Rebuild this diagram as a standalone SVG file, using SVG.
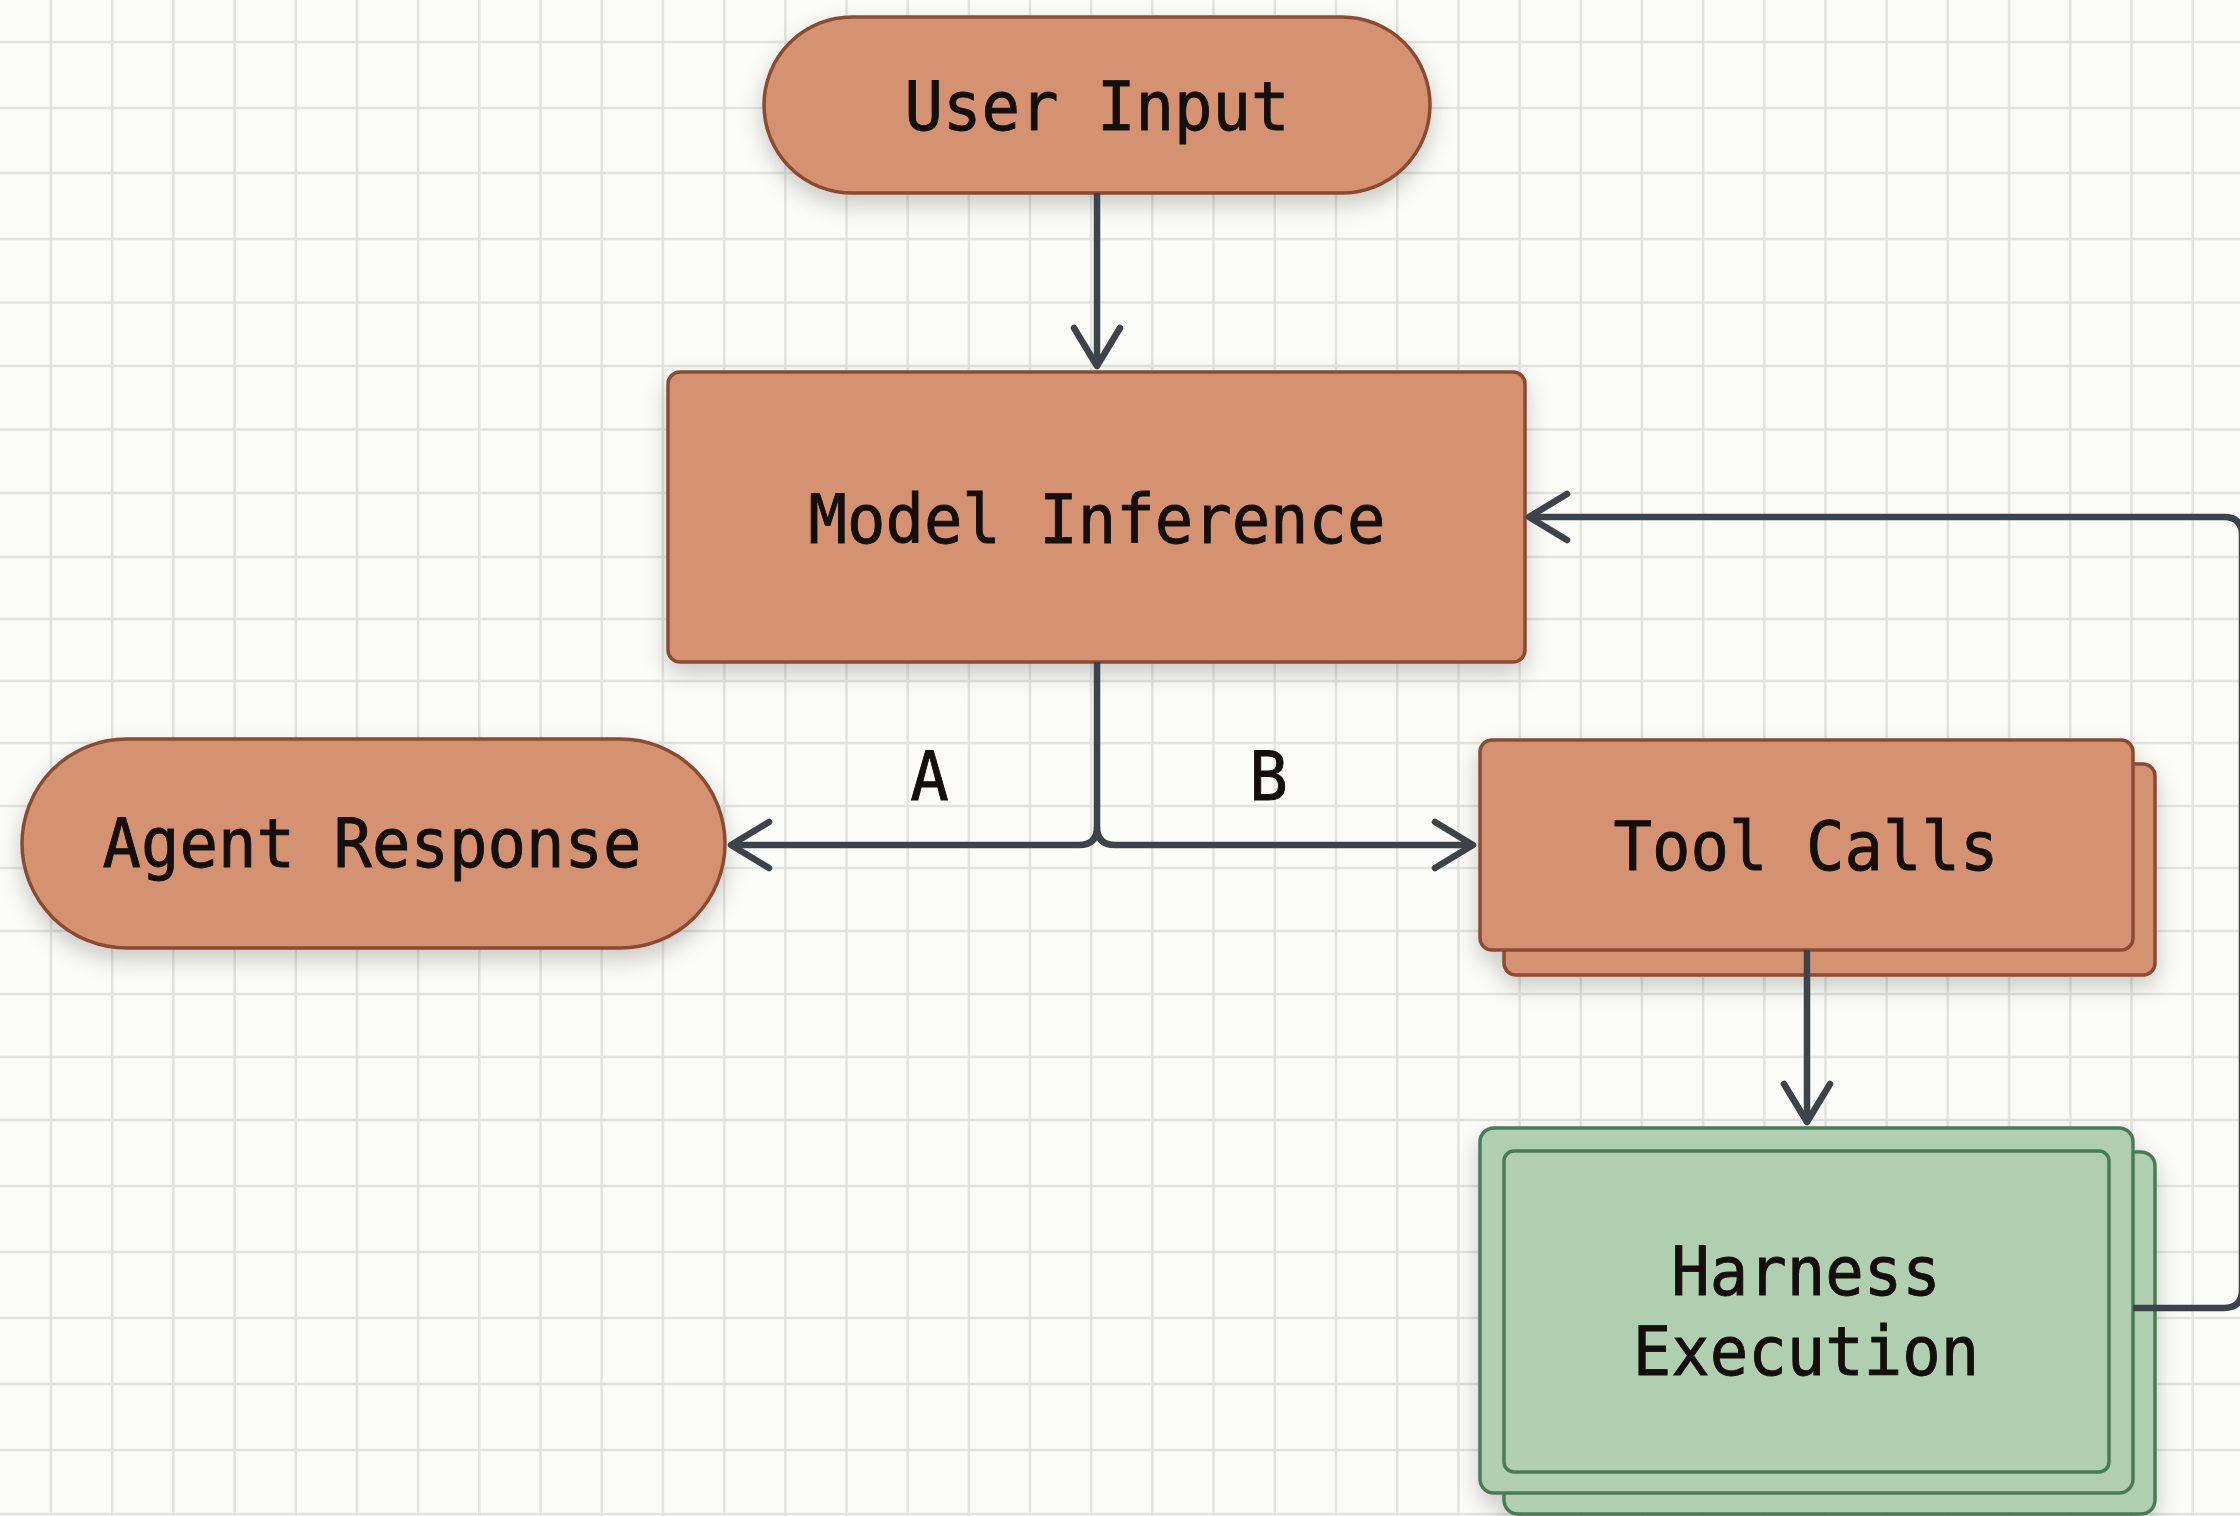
<svg xmlns="http://www.w3.org/2000/svg" width="2240" height="1516" viewBox="0 0 2240 1516">
  <style>
    .bg { fill: #fbfbf7; }
    .grid { fill: none; stroke: #e3e3df; stroke-width: 2.5; }
    .warm { fill: #d49272; stroke: #8a4b33; stroke-width: 3.5; }
    .mint { fill: #afcfb0; stroke: #4b7a55; stroke-width: 3.5; }
    .mint-inner { fill: none; stroke: #4b7a55; stroke-width: 3.5; }
    .label { font-family: "DejaVu Sans Mono", "Liberation Mono", monospace; font-size: 68px; fill: #140f0c; stroke: #140f0c; stroke-width: 0.9; text-anchor: middle; }
    .wire { fill: none; stroke: #3c434a; stroke-width: 6.5; stroke-linecap: butt; stroke-linejoin: round; }
  </style>
  <defs>
    <filter id="lift" x="-20%" y="-30%" width="140%" height="170%">
      <feDropShadow dx="0" dy="10" stdDeviation="11" flood-color="#000" flood-opacity="0.2"/>
    </filter>
    <marker id="chevron" markerUnits="userSpaceOnUse" viewBox="-50 -30 60 60" refX="0" refY="0" markerWidth="60" markerHeight="60" orient="auto">
      <path d="M-38,-23 L0,0 L-38,23" fill="none" stroke="#3c434a" stroke-width="6.5" stroke-linecap="round" stroke-linejoin="round"/>
    </marker>
  </defs>

  <!-- paper background with grid -->
  <rect class="bg" x="0" y="0" width="2240" height="1516"/>
  <path class="grid" d="
    M51,0V1516 M112.2,0V1516 M173.4,0V1516 M234.6,0V1516 M295.8,0V1516 M356.9,0V1516
    M418.1,0V1516 M479.3,0V1516 M540.5,0V1516 M601.7,0V1516 M662.9,0V1516 M724.1,0V1516
    M785.3,0V1516 M846.5,0V1516 M907.7,0V1516 M968.9,0V1516 M1030,0V1516 M1091.2,0V1516
    M1152.4,0V1516 M1213.6,0V1516 M1274.8,0V1516 M1336,0V1516 M1397.2,0V1516 M1458.4,0V1516
    M1519.6,0V1516 M1580.8,0V1516 M1641.9,0V1516 M1703.1,0V1516 M1764.3,0V1516 M1825.5,0V1516
    M1886.7,0V1516 M1947.9,0V1516 M2009.1,0V1516 M2070.3,0V1516 M2131.5,0V1516 M2192.7,0V1516
    M0,42H2240 M0,108H2240 M0,173H2240 M0,239H2240 M0,302.5H2240 M0,366H2240 M0,429.5H2240
    M0,493H2240 M0,557H2240 M0,619H2240 M0,681H2240 M0,743H2240 M0,806H2240 M0,868H2240
    M0,931H2240 M0,994H2240 M0,1057H2240 M0,1120H2240 M0,1186H2240 M0,1252H2240 M0,1318H2240
    M0,1384H2240 M0,1450H2240 M0,1514H2240"/>

  <!-- nodes -->
  <g id="node-user-input" filter="url(#lift)">
    <rect class="warm" x="764" y="17" width="666" height="176" rx="88"/>
    <text class="label" x="1097" y="130" textLength="385" lengthAdjust="spacingAndGlyphs">User Input</text>
  </g>

  <g id="node-model-inference" filter="url(#lift)">
    <rect class="warm" x="668" y="372" width="857" height="290" rx="12"/>
    <text class="label" x="1097" y="543" textLength="577" lengthAdjust="spacingAndGlyphs">Model Inference</text>
  </g>

  <g id="node-agent-response" filter="url(#lift)">
    <rect class="warm" x="22" y="739" width="703" height="209" rx="104.5"/>
    <text class="label" x="372" y="867" textLength="539" lengthAdjust="spacingAndGlyphs">Agent Response</text>
  </g>

  <g id="node-tool-calls" filter="url(#lift)">
    <rect class="warm" x="1504" y="764" width="651" height="211" rx="12"/>
    <rect class="warm" x="1480" y="740" width="653" height="210" rx="12"/>
    <text class="label" x="1806" y="870" textLength="385" lengthAdjust="spacingAndGlyphs">Tool Calls</text>
  </g>

  <g id="node-harness-execution" filter="url(#lift)">
    <rect class="mint" x="1504" y="1152" width="651" height="362" rx="14"/>
    <rect class="mint" x="1480" y="1128" width="653" height="365" rx="14"/>
    <rect class="mint-inner" x="1504" y="1151" width="605" height="321" rx="10"/>
    <text class="label" x="1806" y="1295" textLength="269.5" lengthAdjust="spacingAndGlyphs">Harness</text>
    <text class="label" x="1806" y="1375" textLength="346.5" lengthAdjust="spacingAndGlyphs">Execution</text>
  </g>

  <!-- connectors -->
  <g id="connectors">
    <path id="edge-input-model" class="wire" d="M1097,193 V366" marker-end="url(#chevron)"/>
    <path id="edge-model-response" class="wire" d="M1097,662 V827 Q1097,845 1079,845 H731" marker-end="url(#chevron)"/>
    <path id="edge-model-tools" class="wire" d="M1097,827 Q1097,845 1115,845 H1473" marker-end="url(#chevron)"/>
    <path id="edge-tools-harness" class="wire" d="M1807,950 V1122" marker-end="url(#chevron)"/>
    <path id="edge-harness-model" class="wire" d="M2133,1308 H2224 Q2242,1308 2242,1290 V535 Q2242,517 2224,517 H1529" marker-end="url(#chevron)"/>
    <text class="label" x="929.5" y="800" textLength="38.5" lengthAdjust="spacingAndGlyphs">A</text>
    <text class="label" x="1268.5" y="800" textLength="38.5" lengthAdjust="spacingAndGlyphs">B</text>
  </g>
</svg>
